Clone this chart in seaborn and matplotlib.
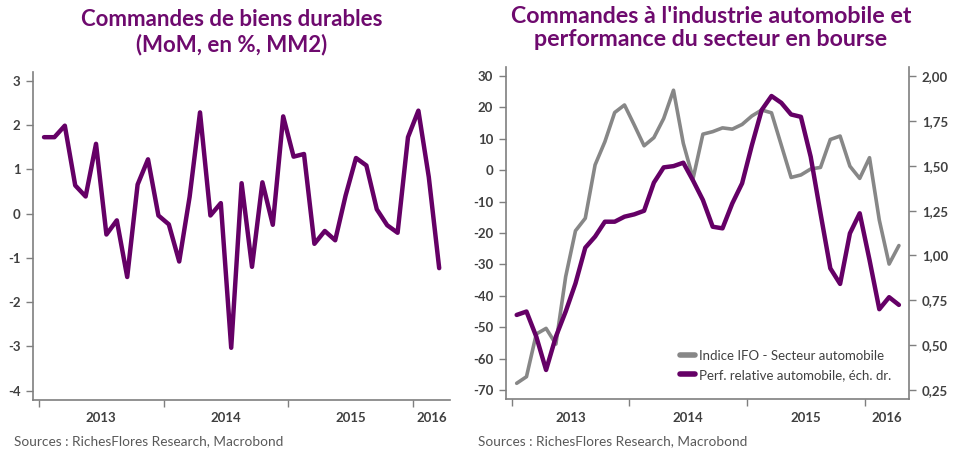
import numpy as np
import pandas as pd
import matplotlib
matplotlib.use("Agg")
import matplotlib.pyplot as plt
import seaborn as sns
from matplotlib.lines import Line2D

# ---------------- data ----------------
years = ["2013", "2014", "2015", "2016"]

# Left: durable goods orders (MoM, %, MM2), Jan 2013 - Mar 2016
durables = [1.73, 1.73, 1.99, 0.64, 0.39, 1.58, -0.47, -0.15, -1.43, 0.66,
            1.23, -0.04, -0.24, -1.08, 0.38, 2.29, -0.04, 0.24, -3.03, 0.69,
            -1.20, 0.71, -0.25, 2.20, 1.29, 1.35, -0.68, -0.39, -0.60, 0.41,
            1.26, 1.09, 0.10, -0.26, -0.43, 1.73, 2.33, 0.83, -1.23]

# Right: IFO auto sector index (left scale), Jan 2013 - Apr 2016
ifo_auto = [-67.9, -65.8, -52.2, -50.4, -55.4, -33.9, -19.3, -15.3, 1.7, 9.1,
            18.4, 20.8, 14.4, 7.8, 10.4, 16.5, 25.5, 8.6, -2.6, 11.5,
            12.3, 13.5, 13.1, 14.6, 17.3, 19.2, 18.3, 8.0, -2.3, -1.5,
            0.4, 0.9, 9.8, 10.9, 1.3, -2.6, 4.0, -15.9, -29.9, -24.0]

# Right: relative performance of auto sector (right scale)
perf_auto = [0.668, 0.687, 0.547, 0.361, 0.547, 0.687, 0.844, 1.043, 1.105, 1.188,
             1.188, 1.216, 1.229, 1.249, 1.406, 1.491, 1.498, 1.517, 1.417, 1.309,
             1.160, 1.151, 1.290, 1.402, 1.615, 1.811, 1.889, 1.851, 1.786, 1.773,
             1.550, 1.235, 0.928, 0.841, 1.123, 1.235, 0.975, 0.700, 0.767, 0.724]

left_yticks = [3, 2, 1, 0, -1, -2, -3, -4]
right_l_yticks = [30, 20, 10, 0, -10, -20, -30, -40, -50, -60, -70]
right_r_yticks = [2.00, 1.75, 1.50, 1.25, 1.00, 0.75, 0.50, 0.25]

label_ifo = "Indice IFO - Secteur automobile"
label_perf = "Perf. relative automobile, éch. dr."

title_left = "Commandes de biens durables\n(MoM, en %, MM2)"
title_right = "Commandes à l'industrie automobile et\nperformance du secteur en bourse"
source_txt = "Sources : RichesFlores Research, Macrobond"

# ---------------- style ----------------
sns.set_theme(style="white")
plt.rcParams['font.family'] = ['Lato', 'DejaVu Sans']

PURPLE = "#650066"
TITLE_C = "#6E0A6E"
GREY = "#878787"
TXT = "#404040"
SPINE = "#7f7f7f"

fig = plt.figure(figsize=(9.54, 4.5), dpi=100)

df_l = pd.DataFrame({"m": np.arange(len(durables)), "v": durables})
df_r = pd.DataFrame({"m": np.arange(len(ifo_auto)), "ifo": ifo_auto, "perf": perf_auto})


def style_xaxis(ax, xmax):
    majors = [-0.5, 11.5, 23.5, 35.5]
    ax.set_xticks(majors)
    ax.set_xticklabels([])
    mids = [5.5, 17.5, 29.5, (35.5 + xmax) / 2]
    ax.set_xticks(mids, minor=True)
    ax.set_xticklabels(years, minor=True)
    ax.tick_params(axis="x", which="major", direction="out", length=5, width=1,
                   color=SPINE, bottom=True)
    ax.tick_params(axis="x", which="minor", length=0, pad=9,
                   labelsize=9.5, labelcolor=TXT)
    for t in ax.get_xticklabels(minor=True):
        t.set_fontweight("bold")


# ---------------- left chart ----------------
ax1 = fig.add_axes([33 / 954, 1 - 400 / 450, 417 / 954, 328.3 / 450])
sns.lineplot(data=df_l, x="m", y="v", ax=ax1, color=PURPLE, linewidth=3.2)
ax1.set_xlim(-1.06, 39.04)
ax1.set_ylim(-4.21, 3.21)
ax1.set_yticks(left_yticks)
ax1.set_yticklabels([str(v) for v in left_yticks])
ax1.set_xlabel("")
ax1.set_ylabel("")
style_xaxis(ax1, 39.04)
ax1.tick_params(axis="y", direction="out", length=5, width=1, color=SPINE,
                left=True, labelsize=9.5, labelcolor=TXT, pad=4)
for t in ax1.get_yticklabels():
    t.set_fontweight("bold")
for s in ["top", "right"]:
    ax1.spines[s].set_visible(False)
for s in ["left", "bottom"]:
    ax1.spines[s].set_color(SPINE)
    ax1.spines[s].set_linewidth(1.2)

fig.text(232 / 954, 1 - 32 / 450, title_left, ha="center", va="center",
         fontsize=16, fontweight="bold", color=TITLE_C, linespacing=1.2)

# ---------------- right chart ----------------
ax2 = fig.add_axes([505.7 / 954, 1 - 399.3 / 450, 403.6 / 954, 332.6 / 450])
sns.lineplot(data=df_r, x="m", y="ifo", ax=ax2, color=GREY, linewidth=2.6)
ax2.set_xlim(-1.12, 40.06)
ax2.set_ylim(-73, 33)
ax2.set_yticks(right_l_yticks)
ax2.set_yticklabels([str(v) for v in right_l_yticks])
ax2.set_xlabel("")
ax2.set_ylabel("")
style_xaxis(ax2, 40.06)
ax2.tick_params(axis="y", direction="out", length=5, width=1, color=SPINE,
                left=True, labelsize=9.5, labelcolor=TXT, pad=4)
for t in ax2.get_yticklabels():
    t.set_fontweight("bold")
ax2.spines["top"].set_visible(False)
ax2.spines["right"].set_visible(False)
for s in ["left", "bottom"]:
    ax2.spines[s].set_color(SPINE)
    ax2.spines[s].set_linewidth(1.2)

ax3 = ax2.twinx()
sns.lineplot(data=df_r, x="m", y="perf", ax=ax3, color=PURPLE, linewidth=3.2)
lo = 0.25 + (-73 + 70) * 0.0175
hi = 0.25 + (33 + 70) * 0.0175
ax3.set_ylim(lo, hi)
ax3.set_yticks(right_r_yticks)
ax3.set_yticklabels([f"{v:.2f}".replace(".", ",") for v in right_r_yticks])
ax3.set_ylabel("")
ax3.set_xlabel("")
ax3.tick_params(axis="y", direction="out", length=5, width=1, color=SPINE,
                right=True, labelsize=9.5, labelcolor=TXT, pad=4)
for t in ax3.get_yticklabels():
    t.set_fontweight("bold")
for s in ["top", "left", "bottom"]:
    ax3.spines[s].set_visible(False)
ax3.spines["right"].set_color(SPINE)
ax3.spines["right"].set_linewidth(1.2)

handles = [Line2D([0], [0], color=GREY, linewidth=4),
           Line2D([0], [0], color=PURPLE, linewidth=4)]
leg = ax3.legend(handles, [label_ifo, label_perf], loc="lower right",
                 bbox_to_anchor=(0.985, 0.02), frameon=False, fontsize=9.5,
                 handlelength=1.1, handletextpad=0.35, labelspacing=0.55,
                 labelcolor=TXT)

fig.text(711 / 954, 1 - 28 / 450, title_right, ha="center", va="center",
         fontsize=16.7, fontweight="bold", color=TITLE_C, linespacing=1.15)

fig.text(14 / 954, 1 - 441 / 450, source_txt, ha="left", va="center",
         fontsize=9.8, color="#595959")
fig.text(478 / 954, 1 - 441 / 450, source_txt, ha="left", va="center",
         fontsize=9.8, color="#595959")

fig.savefig("out.png", dpi=100)
